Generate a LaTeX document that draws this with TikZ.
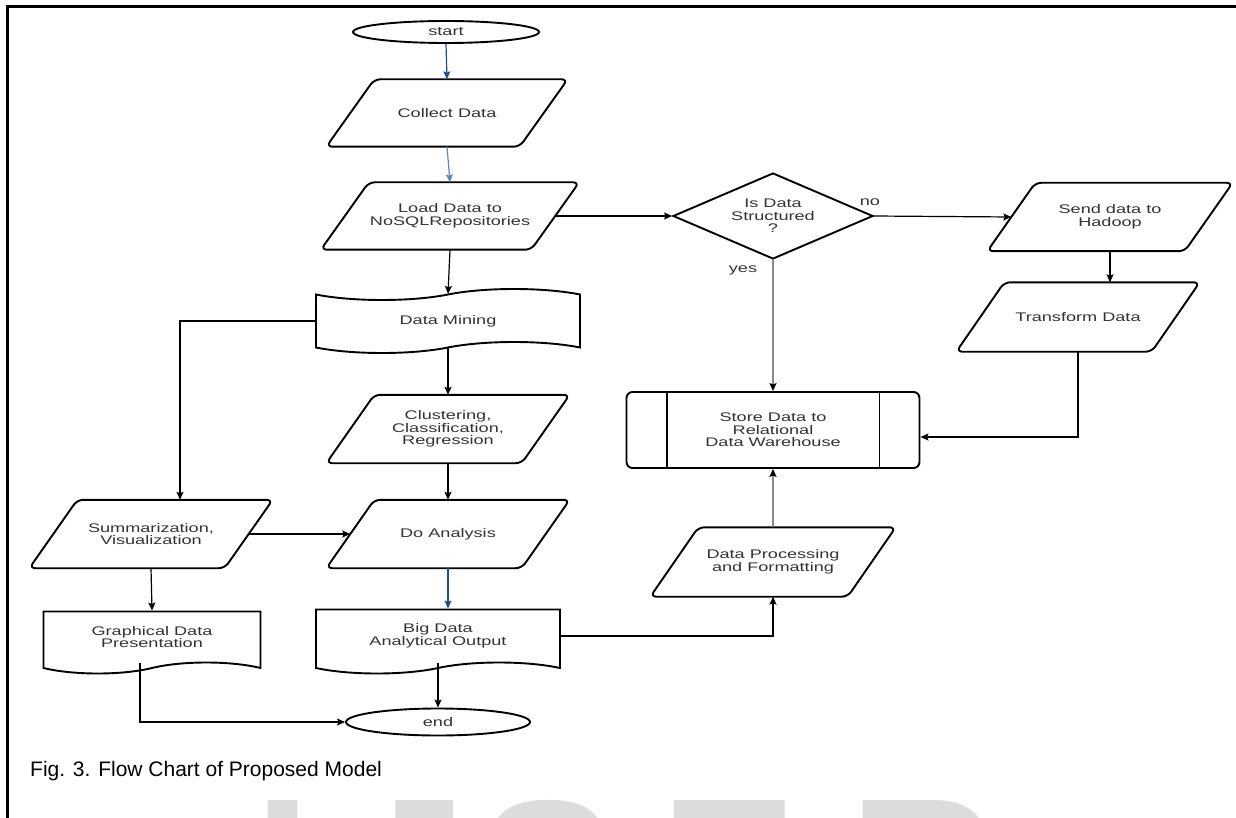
\documentclass[tikz,border=0pt]{standalone}
\usepackage{fontspec}
\usepackage{tikz}
\usetikzlibrary{shapes.geometric}
\usetikzlibrary{shapes.symbols}
\usetikzlibrary{arrows.meta}
\newfontfamily\boxfont[FakeStretch=1.45]{Liberation Sans}
\newfontfamily\capfont{Liberation Sans}
\definecolor{darkblue}{HTML}{1F4E8C}
\definecolor{steelblue}{HTML}{5A86B8}
\definecolor{linegray}{HTML}{8A8A8A}
\definecolor{markgray}{HTML}{DCDCDC}

\begin{document}
\begin{tikzpicture}[x=1pt,y=-1pt,
    >={Stealth[length=8pt,width=7pt,inset=1.5pt]},
    every node/.style={font=\boxfont\fontsize{12.5}{12.5}\selectfont, text=black!80},
    term/.style={ellipse, draw, line width=1.9pt, minimum width=186pt, minimum height=22pt, inner sep=0pt},
    iobox/.style={rectangle, minimum width=#1, minimum height=68pt, align=center, inner sep=2pt,
      append after command={\pgfextra{\draw[line width=1.9pt, rounded corners=6pt]
        ([xshift=24pt]\tikzlastnode.north west) -- ([xshift=24pt]\tikzlastnode.north east)
        -- ([xshift=-24pt]\tikzlastnode.south east) -- ([xshift=-24pt]\tikzlastnode.south west) -- cycle;}}},
    iobox/.default=195pt,
    tapebox/.style={tape, draw, line width=1.9pt, tape bend height=11pt, minimum width=264pt, minimum height=64pt, align=center},
    docbox/.style={tapebox, tape bend top=none},
    decision/.style={diamond, draw, line width=1.9pt, minimum width=200pt, minimum height=86pt, aspect=2.3, inner sep=0pt, align=center},
    procbox/.style={rectangle, draw, line width=1.9pt, rounded corners=6pt, minimum width=293pt, minimum height=76pt, align=center},
    link/.style={->, line width=1.2pt},
    graylink/.style={-{Stealth[length=8pt,width=7pt,inset=1.5pt,color=black]}, line width=2.2pt, draw=linegray},
    wmark/.style={font=\capfont\bfseries\fontsize{205}{205}\selectfont, text=markgray, inner sep=0pt}]
  \useasboundingbox (0,0) rectangle (1236,818);
  % watermark
  \begin{scope}
    \clip (0,0) rectangle (1236,818);
    \foreach \ch/\xx in {I/283,J/411,S/548,E/729,R/924}
      \node[wmark, anchor=north] (wm\ch) at (\xx,800) {\ch};
  \end{scope}
  % frame
  \draw[line width=2.6pt] (1236,6.5) -- (7.5,6.5) -- (7.5,818);
  % main column
  \node[term] (start) at (446,32) {start};
  \node[iobox=193pt, minimum height=67pt] (collect) at (447,113) {Collect Data};
  \node[iobox=210pt, minimum height=67pt] (load) at (450,216) {Load Data to\\NoSQLRepositories};
  \node[tapebox] (mining) at (448,321) {Data Mining};
  \node[iobox] (clust) at (448,429) {Clustering,\\Classification,\\Regression};
  \node[iobox] (analysis) at (448,534) {Do Analysis};
  \node[docbox, minimum width=244pt] (bigdata) at (438,636) {Big Data\\Analytical Output};
  \node[term, minimum width=184pt, minimum height=27pt] (end) at (438,722) {end};
  % left column
  \node[iobox] (summ) at (151,534) {Summarization,\\Visualization};
  \node[docbox, minimum width=217pt, minimum height=62pt] (graph) at (152,637) {Graphical Data\\Presentation};
  % right part
  \node[decision] (struct) at (773,216) {Is Data\\Structured\\?};
  \node (no) at ([xshift=-4pt,yshift=14pt]struct.east) {no};
  \node (yes) at ([xshift=-30pt,yshift=-10pt]struct.south) {yes};
  \node[iobox=197pt] (send) at (1110,217) {Send data to\\Hadoop};
  \node[iobox, minimum height=69pt] (trans) at (1078,317) {Transform Data};
  \node[procbox] (store) at (773,430) {Store Data to\\Relational\\Data Warehouse};
  \draw[line width=1.9pt] ([xshift=41pt]store.north west) -- ([xshift=41pt]store.south west);
  \draw[line width=1.9pt] ([xshift=-41pt]store.north east) -- ([xshift=-41pt]store.south east);
  \node[iobox=197pt, minimum height=69pt] (proc) at (773,562) {Data Processing\\and Formatting};
  % caption
  \node[font=\capfont\fontsize{21}{25}\selectfont, text=black, anchor=base west, inner sep=0pt] (caption) at (30,776) {Fig. 3. Flow Chart of Proposed Model};
  % connectors
  \draw[link, draw=darkblue] (start.south) -- (collect.north);
  \draw[link, draw=steelblue] (collect.south) -- (load.north);
  \draw[link] (load.south) -- (mining.north);
  \draw[link] (load.east) -- (struct.west);
  \draw[link] (struct.east) -- (send.west);
  \draw[graylink] (struct.south) -- (store.north);
  \draw[link] (send.south) -- (send.south |- trans.north);
  \draw[link] (trans.south) |- ([yshift=-7pt]store.east);
  \draw[link] (mining.west) -| ([xshift=29pt]summ.north);
  \draw[link] (mining.south) -- (clust.north);
  \draw[link] (clust.south) -- (analysis.north);
  \draw[link] (summ.east) -- (analysis.west);
  \draw[link] (summ.south) -- (graph.north);
  \draw[link, draw=darkblue] (analysis.south) -- (analysis.south |- bigdata.north);
  \draw[link] (bigdata.south) -- (end.north);
  \draw[link] ([xshift=-12pt]graph.south) |- (end.west);
  \draw[link] (bigdata.east) -| (proc.south);
  \draw[graylink] (proc.north) -- (store.south);
\end{tikzpicture}
\end{document}
